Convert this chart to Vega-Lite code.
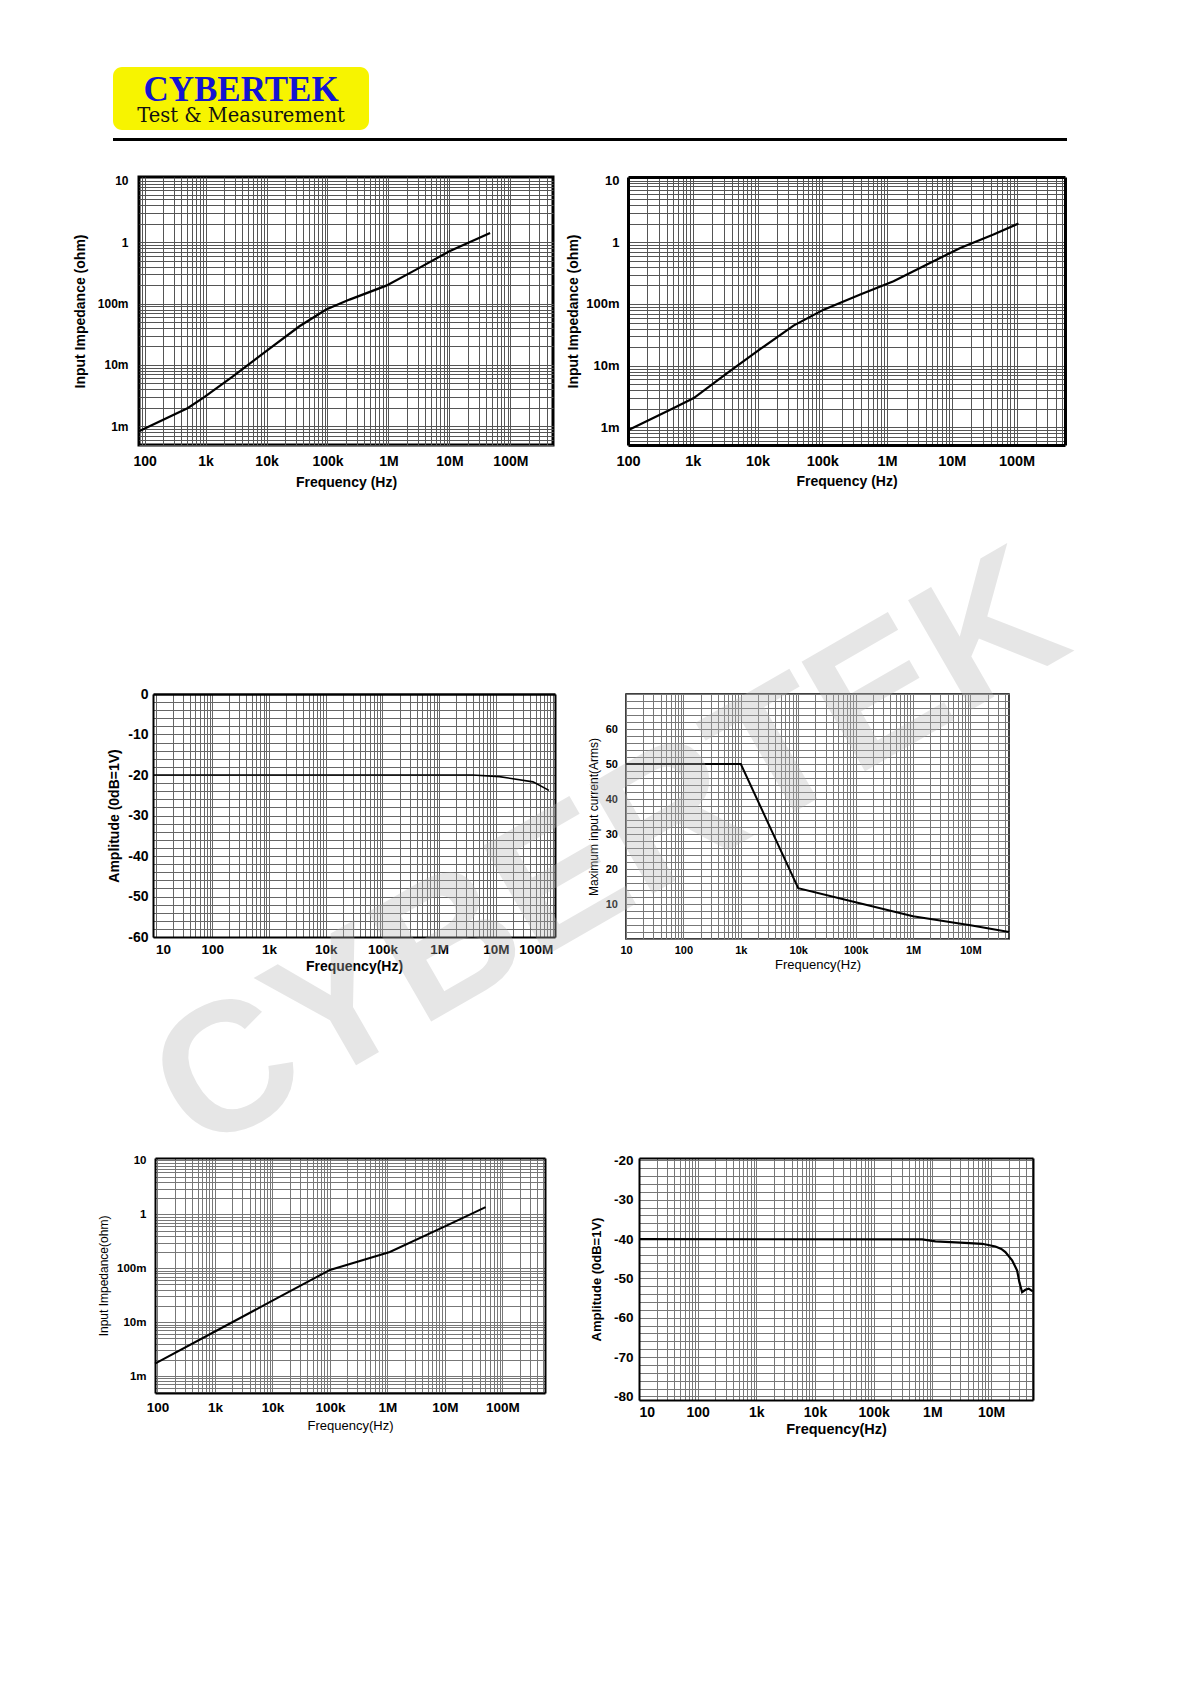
{
  "$schema": "https://vega.github.io/schema/vega-lite/v6.json",
  "background": "white",
  "padding": {"left": 71, "top": 67, "right": 10, "bottom": 10},
  "config": {
    "view": {"stroke": null},
    "axis": {"labelFont": "Liberation Sans", "titleFont": "Liberation Sans", "labelColor": "#000", "titleColor": "#000", "ticks": false, "domain": false, "labelOverlap": false, "grid": true, "gridOpacity": 1, "gridWidth": 1}
  },
  "datasets": {
    "imp1": [{"f":81,"v":0.00083},{"f":514,"v":0.00198},{"f":964,"v":0.003},{"f":2810,"v":0.0065},{"f":9890,"v":0.0167},{"f":34700,"v":0.0426},{"f":95000,"v":0.0798},{"f":230000,"v":0.116},{"f":920000,"v":0.196},{"f":2840000,"v":0.358},{"f":10000000,"v":0.713},{"f":46500000,"v":1.42}],
    "imp2": [{"f":100,"v":0.0009},{"f":509,"v":0.00206},{"f":1036,"v":0.003},{"f":3400,"v":0.0076},{"f":11100,"v":0.0187},{"f":36000,"v":0.0447},{"f":105000,"v":0.081},{"f":386000,"v":0.142},{"f":1260000,"v":0.233},{"f":4130000,"v":0.435},{"f":13500000,"v":0.809},{"f":44000000,"v":1.33},{"f":107000000,"v":2.01}],
    "amp1": [{"f":9,"v":-20},{"f":3900000,"v":-20},{"f":11500000,"v":-20.4},{"f":45000000,"v":-21.7},{"f":86000000,"v":-23.8}],
    "cur": [{"f":10,"v":50},{"f":1000,"v":50},{"f":10000,"v":14.5},{"f":100000,"v":10.5},{"f":1000000,"v":6.5},{"f":10000000,"v":3.9},{"f":47000000,"v":2.0}],
    "imp3": [{"f":90.6,"v":0.0017},{"f":1000,"v":0.0067},{"f":10000,"v":0.025},{"f":100000,"v":0.093},{"f":1100000,"v":0.2},{"f":10000000,"v":0.6},{"f":51000000,"v":1.36}],
    "amp2": [{"f":10,"v":-40},{"f":670000,"v":-40.1},{"f":1130000,"v":-40.6},{"f":3000000,"v":-40.9},{"f":7100000,"v":-41.2},{"f":11900000,"v":-41.9},{"f":15000000,"v":-42.5},{"f":17600000,"v":-43.3},{"f":22900000,"v":-45.4},{"f":27900000,"v":-48.0},{"f":30500000,"v":-51.0},{"f":33900000,"v":-53.5},{"f":38600000,"v":-52.9},{"f":44000000,"v":-52.6},{"f":51500000,"v":-53.3}],
    "wm": [{"t":"CYBERTEK","f":3.2,"v":57.6}],
    "blank": [{}]
  },
  "bounds": "flush",
  "spacing": 8,
  "vconcat": [
    {
      "width": 256, "height": 63,
      "view": {"fill": "#f7f400", "stroke": null, "cornerRadius": 9},
      "layer": [
        {
          "data": {"values": [{"t": "CYBERTEK", "row": "brand"}]},
          "mark": {"type": "text", "font": "Liberation Serif", "fontWeight": "bold", "fontSize": 35, "color": "#1414d2", "baseline": "alphabetic"},
          "encoding": {"text": {"field": "t"}, "y": {"field": "row", "type": "nominal", "scale": {"type": "point", "domain": ["brand", "tag"], "range": [34, 55], "padding": 0}, "axis": null}}
        },
        {
          "data": {"values": [{"t": "Test & Measurement", "row": "tag"}]},
          "mark": {"type": "text", "font": "DejaVu Serif", "fontSize": 19.5, "color": "#111", "baseline": "alphabetic"},
          "encoding": {"text": {"field": "t"}, "y": {"field": "row", "type": "nominal", "scale": {"type": "point", "domain": ["brand", "tag"], "range": [34, 55], "padding": 0}, "axis": null}}
        }
      ]
    },
    {"width": 954, "height": 3, "view": {"fill": "#000", "stroke": null}, "data": {"name": "blank"}, "mark": {"type": "point", "opacity": 0, "size": 0}},
    {"width": 1, "height": 20, "data": {"name": "blank"}, "mark": {"type": "point", "opacity": 0, "size": 0}},
    {
      "columns": 4,
      "bounds": "flush",
      "spacing": 0,
      "concat": [
        {"width": 26, "height": 1, "data": {"name": "blank"}, "mark": {"type": "point", "opacity": 0, "size": 0}},
        {
          "width": 414, "height": 268,
          "view": {"stroke": "#000", "strokeWidth": 3},
          "data": {"name": "imp1"},
          "mark": {"type": "line", "color": "#000", "strokeWidth": 2.2},
          "encoding": {
            "x": {"field": "f", "type": "quantitative",
              "scale": {"type": "log", "domain": [81, 500000000], "nice": false},
              "axis": {"values": [90,100,200,300,400,500,600,700,800,900,1000,2000,3000,4000,5000,6000,7000,8000,9000,10000,20000,30000,40000,50000,60000,70000,80000,90000,100000,200000,300000,400000,500000,600000,700000,800000,900000,1000000,2000000,3000000,4000000,5000000,6000000,7000000,8000000,9000000,10000000,20000000,30000000,40000000,50000000,60000000,70000000,80000000,90000000,100000000,200000000,300000000,400000000],
                "labelExpr": "datum.value == 10 ? '10' : datum.value == 100 ? '100' : datum.value == 1000 ? '1k' : datum.value == 10000 ? '10k' : datum.value == 100000 ? '100k' : datum.value == 1000000 ? '1M' : datum.value == 10000000 ? '10M' : datum.value == 100000000 ? '100M' : ''",
                "gridColor": "#555", "labelFontSize": 14, "labelFontWeight": "bold", "labelPadding": 9, "labelFlush": false,
                "title": "Frequency (Hz)", "titleFontSize": 14, "titleFontWeight": "bold", "titlePadding": 7}},
            "y": {"field": "v", "type": "quantitative",
              "scale": {"type": "log", "domain": [0.000493, 11.6], "nice": false},
              "axis": {"values": [0.0005,0.0006,0.0007,0.0008,0.0009,0.001,0.002,0.003,0.004,0.005,0.006,0.007,0.008,0.009,0.01,0.02,0.03,0.04,0.05,0.06,0.07,0.08,0.09,0.1,0.2,0.3,0.4,0.5,0.6,0.7,0.8,0.9,1,2,3,4,5,6,7,8,9,10],
                "labelExpr": "datum.value == 0.001 ? '1m' : datum.value == 0.01 ? '10m' : datum.value == 0.1 ? '100m' : datum.value == 1 ? '1' : datum.value == 10 ? '10' : ''",
                "gridColor": "#555", "labelFontSize": 12, "labelFontWeight": "bold", "labelPadding": 11,
                "title": "Input Impedance (ohm)", "titleFontSize": 14, "titleFontWeight": "bold", "titlePadding": 10}}
          }
        },
        {"width": 71, "height": 1, "data": {"name": "blank"}, "mark": {"type": "point", "opacity": 0, "size": 0}},
        {
          "width": 439, "height": 268,
          "resolve": {"axis": {"x": "independent", "y": "independent"}},
          "layer": [
            {
              "data": {"name": "imp2"},
              "mark": {"type": "line", "color": "#000", "strokeWidth": 2.2},
              "encoding": {
                "x": {"field": "f", "type": "quantitative",
                  "scale": {"type": "log", "domain": [100, 560000000], "nice": false, "range": [2, 439]},
                  "axis": {"values": [100,200,300,400,500,600,700,800,900,1000,2000,3000,4000,5000,6000,7000,8000,9000,10000,20000,30000,40000,50000,60000,70000,80000,90000,100000,200000,300000,400000,500000,600000,700000,800000,900000,1000000,2000000,3000000,4000000,5000000,6000000,7000000,8000000,9000000,10000000,20000000,30000000,40000000,50000000,60000000,70000000,80000000,90000000,100000000,200000000,300000000,400000000,500000000],
                    "labelExpr": "datum.value == 10 ? '10' : datum.value == 100 ? '100' : datum.value == 1000 ? '1k' : datum.value == 10000 ? '10k' : datum.value == 100000 ? '100k' : datum.value == 1000000 ? '1M' : datum.value == 10000000 ? '10M' : datum.value == 100000000 ? '100M' : ''",
                    "orient": "bottom", "domain": true, "domainColor": "#000", "domainWidth": 3,
                    "gridColor": "#555", "labelFontSize": 14.5, "labelFontWeight": "bold", "labelPadding": 9, "labelFlush": false,
                    "title": "Frequency (Hz)", "titleFontSize": 14, "titleFontWeight": "bold", "titlePadding": 7}},
                "y": {"field": "v", "type": "quantitative",
                  "scale": {"type": "log", "domain": [0.00052, 11.4], "nice": false},
                  "axis": {"values": [0.0006,0.0007,0.0008,0.0009,0.001,0.002,0.003,0.004,0.005,0.006,0.007,0.008,0.009,0.01,0.02,0.03,0.04,0.05,0.06,0.07,0.08,0.09,0.1,0.2,0.3,0.4,0.5,0.6,0.7,0.8,0.9,1,2,3,4,5,6,7,8,9,10],
                    "labelExpr": "datum.value == 0.001 ? '1m' : datum.value == 0.01 ? '10m' : datum.value == 0.1 ? '100m' : datum.value == 1 ? '1' : datum.value == 10 ? '10' : ''",
                    "orient": "left", "offset": -2, "domain": true, "domainColor": "#000", "domainWidth": 3,
                    "gridColor": "#555", "labelFontSize": 13, "labelFontWeight": "bold", "labelPadding": 9,
                    "title": "Input Impedance (ohm)", "titleFontSize": 14, "titleFontWeight": "bold", "titlePadding": 5}}
              }
            },
            {
              "data": {"name": "imp2"},
              "mark": {"type": "point", "opacity": 0, "size": 0},
              "encoding": {
                "x": {"field": "f", "type": "quantitative", "axis": {"orient": "top", "labels": false, "grid": false, "title": null, "domain": true, "domainColor": "#000", "domainWidth": 3}},
                "y": {"field": "v", "type": "quantitative", "axis": {"orient": "right", "labels": false, "grid": false, "title": null, "domain": true, "domainColor": "#000", "domainWidth": 3}}
              }
            }
          ]
        },

        {"width": 1, "height": 1, "data": {"name": "blank"}, "mark": {"type": "point", "opacity": 0, "size": 0}},
        {"width": 1, "height": 249, "data": {"name": "blank"}, "mark": {"type": "point", "opacity": 0, "size": 0}},
        {"width": 1, "height": 1, "data": {"name": "blank"}, "mark": {"type": "point", "opacity": 0, "size": 0}},
        {"width": 1, "height": 1, "data": {"name": "blank"}, "mark": {"type": "point", "opacity": 0, "size": 0}},

        {"width": 1, "height": 1, "data": {"name": "blank"}, "mark": {"type": "point", "opacity": 0, "size": 0}},
        {
          "width": 416, "height": 243,
          "resolve": {"axis": {"x": "independent", "y": "independent"}},
          "layer": [
            {
              "data": {"name": "amp1"},
              "mark": {"type": "line", "color": "#000", "strokeWidth": 1.6},
              "encoding": {
                "x": {"field": "f", "type": "quantitative",
                  "scale": {"type": "log", "domain": [9, 110000000], "nice": false, "range": [14, 416]},
                  "axis": {"values": [9,10,20,30,40,50,60,70,80,90,100,200,300,400,500,600,700,800,900,1000,2000,3000,4000,5000,6000,7000,8000,9000,10000,20000,30000,40000,50000,60000,70000,80000,90000,100000,200000,300000,400000,500000,600000,700000,800000,900000,1000000,2000000,3000000,4000000,5000000,6000000,7000000,8000000,9000000,10000000,20000000,30000000,40000000,50000000,60000000,70000000,80000000,90000000,100000000],
                    "labelExpr": "datum.value == 10 ? '10' : datum.value == 100 ? '100' : datum.value == 1000 ? '1k' : datum.value == 10000 ? '10k' : datum.value == 100000 ? '100k' : datum.value == 1000000 ? '1M' : datum.value == 10000000 ? '10M' : datum.value == 100000000 ? '100M' : ''",
                    "orient": "bottom", "domain": true, "domainColor": "#000", "domainWidth": 2,
                    "gridColor": "#666", "labelFontSize": 13.5, "labelFontWeight": "bold", "labelPadding": 5, "labelFlush": 5,
                    "title": "Frequency(Hz)", "titleFontSize": 14, "titleFontWeight": "bold", "titlePadding": 4}},
                "y": {"field": "v", "type": "quantitative",
                  "scale": {"domain": [-60, 0], "nice": false},
                  "axis": {"values": [-60,-58,-56,-54,-52,-50,-48,-46,-44,-42,-40,-38,-36,-34,-32,-30,-28,-26,-24,-22,-20,-18,-16,-14,-12,-10,-8,-6,-4,-2,0],
                    "labelExpr": "datum.value % 10 == 0 ? '' + datum.value : ''",
                    "orient": "left", "offset": -14, "domain": true, "domainColor": "#000", "domainWidth": 2,
                    "gridColor": "#666", "labelFontSize": 14, "labelFontWeight": "bold", "labelPadding": 5,
                    "title": "Amplitude (0dB=1V)", "titleFontSize": 14, "titleFontWeight": "bold", "titlePadding": 6}}
              }
            },
            {
              "data": {"name": "amp1"},
              "mark": {"type": "point", "opacity": 0, "size": 0},
              "encoding": {
                "x": {"field": "f", "type": "quantitative", "axis": {"orient": "top", "labels": false, "grid": false, "title": null, "domain": true, "domainColor": "#000", "domainWidth": 2.5}},
                "y": {"field": "v", "type": "quantitative", "axis": {"orient": "right", "labels": false, "grid": false, "title": null, "domain": true, "domainColor": "#000", "domainWidth": 2}}
              }
            }
          ]
        },
        {"width": 1, "height": 1, "data": {"name": "blank"}, "mark": {"type": "point", "opacity": 0, "size": 0}},
        {
          "width": 383, "height": 245,
          "view": {"stroke": "#000", "strokeWidth": 1.5},
          "data": {"name": "cur"},
          "mark": {"type": "line", "color": "#000", "strokeWidth": 2},
          "encoding": {
            "x": {"field": "f", "type": "quantitative",
              "scale": {"type": "log", "domain": [10, 47000000], "nice": false},
              "axis": {"values": [10,20,30,40,50,60,70,80,90,100,200,300,400,500,600,700,800,900,1000,2000,3000,4000,5000,6000,7000,8000,9000,10000,20000,30000,40000,50000,60000,70000,80000,90000,100000,200000,300000,400000,500000,600000,700000,800000,900000,1000000,2000000,3000000,4000000,5000000,6000000,7000000,8000000,9000000,10000000,20000000,30000000,40000000],
                "labelExpr": "datum.value == 10 ? '10' : datum.value == 100 ? '100' : datum.value == 1000 ? '1k' : datum.value == 10000 ? '10k' : datum.value == 100000 ? '100k' : datum.value == 1000000 ? '1M' : datum.value == 10000000 ? '10M' : datum.value == 100000000 ? '100M' : ''",
                "gridColor": "#777", "labelFontSize": 11, "labelFontWeight": "bold", "labelPadding": 5, "labelFlush": false,
                "title": "Frequency(Hz)", "titleFontSize": 13, "titleFontWeight": "normal", "titlePadding": 3}},
            "y": {"field": "v", "type": "quantitative",
              "scale": {"domain": [0, 70], "nice": false},
              "axis": {"values": [0,2,4,6,8,10,12,14,16,18,20,22,24,26,28,30,32,34,36,38,40,42,44,46,48,50,52,54,56,58,60,62,64,66,68,70],
                "labelExpr": "datum.value % 10 == 0 && datum.value > 0 && datum.value < 70 ? '' + datum.value : ''",
                "gridColor": "#777", "labelFontSize": 11, "labelFontWeight": "bold", "labelPadding": 8.5,
                "title": "Maximum input current(Arms)", "titleFontSize": 12, "titleFontWeight": "normal", "titlePadding": 5}}
          }
        },

        {"width": 1, "height": 1, "data": {"name": "blank"}, "mark": {"type": "point", "opacity": 0, "size": 0}},
        {"width": 1, "height": 219, "data": {"name": "blank"}, "mark": {"type": "point", "opacity": 0, "size": 0}},
        {"width": 1, "height": 1, "data": {"name": "blank"}, "mark": {"type": "point", "opacity": 0, "size": 0}},
        {"width": 1, "height": 1, "data": {"name": "blank"}, "mark": {"type": "point", "opacity": 0, "size": 0}},

        {"width": 1, "height": 1, "data": {"name": "blank"}, "mark": {"type": "point", "opacity": 0, "size": 0}},
        {
          "width": 406, "height": 235,
          "resolve": {"axis": {"x": "independent", "y": "independent"}},
          "layer": [
            {
              "data": {"name": "imp3"},
              "mark": {"type": "line", "color": "#000", "strokeWidth": 2},
              "encoding": {
                "x": {"field": "f", "type": "quantitative",
                  "scale": {"type": "log", "domain": [90.6, 550000000], "nice": false, "range": [16, 406]},
                  "axis": {"values": [100,200,300,400,500,600,700,800,900,1000,2000,3000,4000,5000,6000,7000,8000,9000,10000,20000,30000,40000,50000,60000,70000,80000,90000,100000,200000,300000,400000,500000,600000,700000,800000,900000,1000000,2000000,3000000,4000000,5000000,6000000,7000000,8000000,9000000,10000000,20000000,30000000,40000000,50000000,60000000,70000000,80000000,90000000,100000000,200000000,300000000,400000000,500000000],
                    "labelExpr": "datum.value == 10 ? '10' : datum.value == 100 ? '100' : datum.value == 1000 ? '1k' : datum.value == 10000 ? '10k' : datum.value == 100000 ? '100k' : datum.value == 1000000 ? '1M' : datum.value == 10000000 ? '10M' : datum.value == 100000000 ? '100M' : ''",
                    "orient": "bottom", "domain": true, "domainColor": "#000", "domainWidth": 2,
                    "gridColor": "#777", "labelFontSize": 13.5, "labelFontWeight": "bold", "labelPadding": 7, "labelFlush": false,
                    "title": "Frequency(Hz)", "titleFontSize": 13, "titleFontWeight": "normal", "titlePadding": 6}},
                "y": {"field": "v", "type": "quantitative",
                  "scale": {"type": "log", "domain": [0.000484, 11.1], "nice": false},
                  "axis": {"values": [0.0005,0.0006,0.0007,0.0008,0.0009,0.001,0.002,0.003,0.004,0.005,0.006,0.007,0.008,0.009,0.01,0.02,0.03,0.04,0.05,0.06,0.07,0.08,0.09,0.1,0.2,0.3,0.4,0.5,0.6,0.7,0.8,0.9,1,2,3,4,5,6,7,8,9,10],
                    "labelExpr": "datum.value == 0.001 ? '1m' : datum.value == 0.01 ? '10m' : datum.value == 0.1 ? '100m' : datum.value == 1 ? '1' : datum.value == 10 ? '10' : ''",
                    "orient": "left", "offset": -16, "domain": true, "domainColor": "#000", "domainWidth": 2,
                    "gridColor": "#777", "labelFontSize": 11.5, "labelFontWeight": "bold", "labelPadding": 9,
                    "title": "Input Impedance(ohm)", "titleFontSize": 12, "titleFontWeight": "normal", "titlePadding": 6.5}}
              }
            },
            {
              "data": {"name": "imp3"},
              "mark": {"type": "point", "opacity": 0, "size": 0},
              "encoding": {
                "x": {"field": "f", "type": "quantitative", "axis": {"orient": "top", "labels": false, "grid": false, "title": null, "domain": true, "domainColor": "#000", "domainWidth": 2}},
                "y": {"field": "v", "type": "quantitative", "axis": {"orient": "right", "labels": false, "grid": false, "title": null, "domain": true, "domainColor": "#000", "domainWidth": 2}}
              }
            }
          ]
        },
        {"width": 1, "height": 1, "data": {"name": "blank"}, "mark": {"type": "point", "opacity": 0, "size": 0}},
        {
          "width": 407, "height": 242,
          "resolve": {"axis": {"x": "independent", "y": "independent"}},
          "layer": [
            {
              "data": {"name": "amp2"},
              "mark": {"type": "line", "color": "#000", "strokeWidth": 2.2},
              "encoding": {
                "x": {"field": "f", "type": "quantitative",
                  "scale": {"type": "log", "domain": [10, 52000000], "nice": false, "range": [13, 407]},
                  "axis": {"values": [10,20,30,40,50,60,70,80,90,100,200,300,400,500,600,700,800,900,1000,2000,3000,4000,5000,6000,7000,8000,9000,10000,20000,30000,40000,50000,60000,70000,80000,90000,100000,200000,300000,400000,500000,600000,700000,800000,900000,1000000,2000000,3000000,4000000,5000000,6000000,7000000,8000000,9000000,10000000,20000000,30000000,40000000,50000000],
                    "labelExpr": "datum.value == 10 ? '10' : datum.value == 100 ? '100' : datum.value == 1000 ? '1k' : datum.value == 10000 ? '10k' : datum.value == 100000 ? '100k' : datum.value == 1000000 ? '1M' : datum.value == 10000000 ? '10M' : datum.value == 100000000 ? '100M' : ''",
                    "orient": "bottom", "domain": true, "domainColor": "#000", "domainWidth": 2,
                    "gridColor": "#777", "labelFontSize": 14, "labelFontWeight": "bold", "labelPadding": 5, "labelFlush": true,
                    "title": "Frequency(Hz)", "titleFontSize": 14.5, "titleFontWeight": "bold", "titlePadding": 3}},
                "y": {"field": "v", "type": "quantitative",
                  "scale": {"domain": [-80.9, -19.4], "nice": false},
                  "axis": {"values": [-80,-78,-76,-74,-72,-70,-68,-66,-64,-62,-60,-58,-56,-54,-52,-50,-48,-46,-44,-42,-40,-38,-36,-34,-32,-30,-28,-26,-24,-22,-20],
                    "labelExpr": "datum.value % 10 == 0 ? '' + datum.value : ''",
                    "orient": "left", "offset": -13, "domain": true, "domainColor": "#000", "domainWidth": 2,
                    "gridColor": "#777", "labelFontSize": 13.5, "labelFontWeight": "bold", "labelPadding": 6,
                    "title": "Amplitude (0dB=1V)", "titleFontSize": 13, "titleFontWeight": "bold", "titlePadding": 10}}
              }
            },
            {
              "data": {"name": "amp2"},
              "mark": {"type": "point", "opacity": 0, "size": 0},
              "encoding": {
                "x": {"field": "f", "type": "quantitative", "axis": {"orient": "top", "labels": false, "grid": false, "title": null, "domain": true, "domainColor": "#000", "domainWidth": 2}},
                "y": {"field": "v", "type": "quantitative", "axis": {"orient": "right", "labels": false, "grid": false, "title": null, "domain": true, "domainColor": "#000", "domainWidth": 2}}
              }
            },
            {
              "data": {"name": "wm"},
              "mark": {"type": "text", "font": "Liberation Sans", "fontWeight": "bold", "fontSize": 184, "angle": 330, "color": "#b4b4b4", "opacity": 0.33, "align": "center", "baseline": "middle"},
              "encoding": {
                "x": {"field": "f", "type": "quantitative", "axis": null},
                "y": {"field": "v", "type": "quantitative", "axis": null},
                "text": {"field": "t"}
              }
            }
          ]
        }
      ]
    }
  ]
}
